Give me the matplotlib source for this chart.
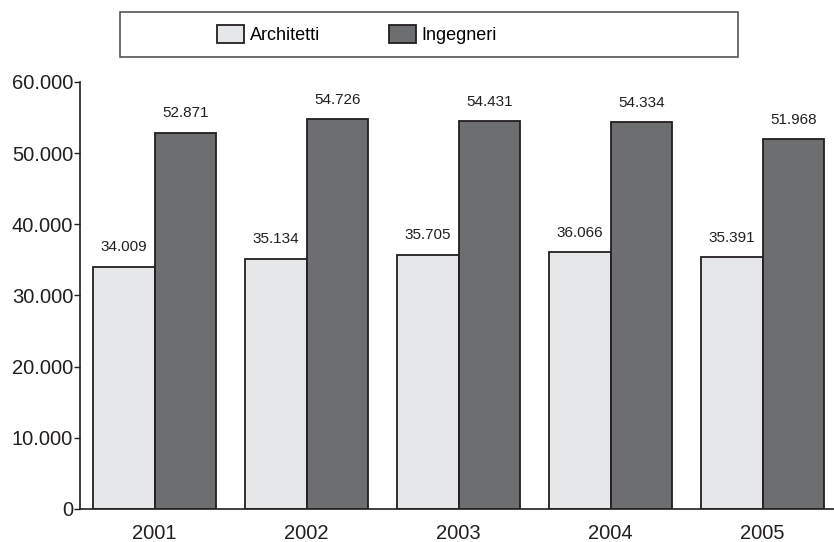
import matplotlib.pyplot as plt
import matplotlib.patches as mpatches
import numpy as np

plt.rcParams['font.family'] = ['Liberation Sans', 'DejaVu Sans']

anni = ['2001', '2002', '2003', '2004', '2005']
architetti = [34009, 35134, 35705, 36066, 35391]
ingegneri = [52871, 54726, 54431, 54334, 51968]

chiaro = '#e6e7e8'
scuro = '#6d6e70'
bordo = '#231f20'


def fmt(v):
    return f'{v:,}'.replace(',', '.')


fig = plt.figure(figsize=(8.34, 5.42), dpi=100)
ax = fig.add_axes([0.096, 0.061, 0.904, 0.788])

x = np.arange(len(anni))
w = 0.405
b1 = ax.bar(x - w / 2, architetti, w, color=chiaro, edgecolor=bordo, linewidth=1.3, label='Architetti')
b2 = ax.bar(x + w / 2, ingegneri, w, color=scuro, edgecolor=bordo, linewidth=1.3, label='Ingegneri')

for barre in (b1, b2):
    for r in barre:
        ax.annotate(fmt(int(r.get_height())), (r.get_x() + r.get_width() / 2, r.get_height()),
                    xytext=(0, 9), textcoords='offset points', ha='center', va='bottom',
                    fontsize=11, color='#231f20')

ax.set_ylim(0, 60000)
ax.set_xlim(-0.49, 4.47)
ax.set_yticks(range(0, 60001, 10000))
ax.set_yticklabels([fmt(v) for v in range(0, 60001, 10000)])
ax.set_xticks(x)
ax.set_xticklabels(anni)
ax.tick_params(axis='y', length=4, width=1, pad=1, labelsize=14.5, colors='#231f20')
ax.tick_params(axis='x', length=0, pad=11, labelsize=14.5, colors='#231f20')
for s in ('top', 'right'):
    ax.spines[s].set_visible(False)
for s in ('left', 'bottom'):
    ax.spines[s].set_color(bordo)
    ax.spines[s].set_linewidth(1.2)

# riquadro della legenda
fig.patches.append(mpatches.Rectangle((120 / 834, 1 - 57 / 542), 618 / 834, 45 / 542,
                                      transform=fig.transFigure, fill=False,
                                      edgecolor='#555555', linewidth=1.2))
fig.legend(handles=[b1, b2], loc='center left', bbox_to_anchor=(210 / 834, 1 - 34.5 / 542),
           ncol=2, frameon=False, fontsize=13, handlelength=1.5, handleheight=1.2,
           handletextpad=0.3, columnspacing=3.8, borderaxespad=0)

fig.savefig('out.png', dpi=100)
